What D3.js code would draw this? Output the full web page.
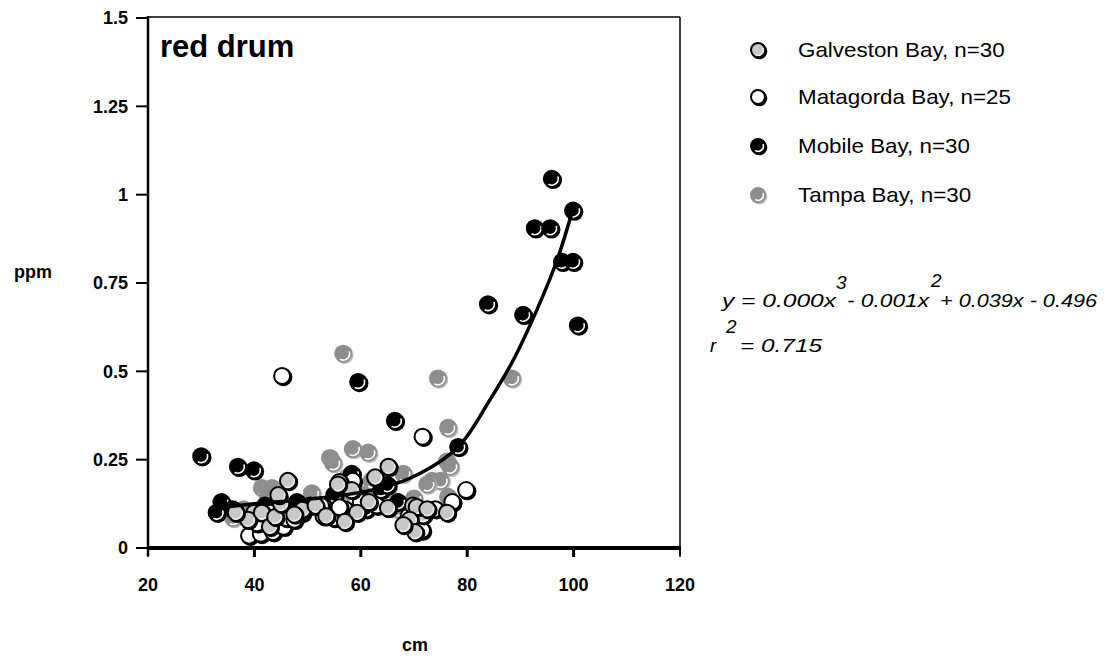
<!DOCTYPE html>
<html>
<head>
<meta charset="utf-8">
<script src="https://cdn.jsdelivr.net/npm/d3@7"></script>
<style>
  body { margin: 0; background: #fff; }
  svg { display: block; font-family: Arial, "Liberation Sans", sans-serif; }
  .tick-label { font-size: 18px; font-weight: bold; }
  .legend-label { font-size: 20px; }
  .eq { font-size: 19px; font-style: italic; }
</style>
</head>
<body>
<script>
// series values: [length cm, mercury ppm]
var galveston = [[46.3,0.19],[49.0,0.108],[40.0,0.10],[38.8,0.08],[41.4,0.10],[42.9,0.06],
  [43.9,0.088],[45.0,0.125],[56.0,0.187],[58.3,0.164],[62.7,0.20],[65.2,0.23],[55.7,0.18],
  [59.3,0.10],[57.0,0.074],[65.1,0.113],[69.8,0.12],[71.7,0.093],[70.5,0.116],[69.2,0.08],
  [70.2,0.045],[68.0,0.065],[76.2,0.10],[72.5,0.11],[51.5,0.12],[53.5,0.09],[47.5,0.095],
  [61.5,0.13],[36.5,0.10],[44.5,0.15]];
var matagorda = [[45.2,0.487],[71.6,0.315],[79.8,0.164],[77.2,0.13],[39.0,0.035],[41.2,0.04],
  [43.5,0.045],[45.5,0.06],[40.5,0.07],[46.0,0.085],[47.5,0.08],[43.0,0.10],[53.0,0.09],
  [55.0,0.085],[57.0,0.11],[52.5,0.12],[56.0,0.115],[60.0,0.13],[63.0,0.12],[70.0,0.07],
  [71.5,0.05],[69.0,0.09],[74.0,0.11],[49.0,0.10],[58.5,0.19]];
var mobile = [[30.0,0.26],[36.9,0.23],[39.9,0.22],[33.8,0.13],[32.9,0.10],[35.9,0.11],
  [59.5,0.47],[66.4,0.36],[78.3,0.286],[95.9,1.045],[99.9,0.955],[92.7,0.905],[95.6,0.905],
  [97.8,0.81],[99.9,0.81],[83.9,0.69],[90.5,0.66],[100.8,0.63],[58.3,0.21],[63.8,0.165],
  [65.0,0.178],[55.0,0.15],[45.0,0.10],[50.5,0.12],[60.0,0.14],[42.0,0.12],[53.0,0.11],
  [67.0,0.13],[48.0,0.13],[61.0,0.11]];
var tampa = [[56.7,0.55],[74.5,0.48],[88.4,0.48],[76.4,0.34],[76.2,0.245],[76.8,0.23],
  [73.4,0.19],[75.0,0.19],[72.5,0.18],[76.4,0.145],[68.0,0.21],[54.2,0.255],[58.5,0.28],
  [61.4,0.27],[54.8,0.24],[50.8,0.155],[41.4,0.17],[43.3,0.17],[36.0,0.085],[42.5,0.15],
  [65.0,0.17],[57.5,0.20],[62.0,0.19],[46.0,0.12],[38.0,0.11],[67.0,0.11],[56.0,0.13],
  [48.0,0.09],[70.0,0.14],[60.5,0.15]];

// trend line
var trend = [[34,0.115],[40,0.125],[48,0.135],[56,0.148],[64,0.17],[71,0.21],[78.3,0.286],
  [84.3,0.42],[88.6,0.53],[93.1,0.674],[96.9,0.815],[99.7,0.95]];

var seriesNames = ["Galveston Bay, n=30", "Matagorda Bay, n=25", "Mobile Bay, n=30", "Tampa Bay, n=30"];
var xTicks = [20, 40, 60, 80, 100, 120];
var yTicks = [0, 0.25, 0.5, 0.75, 1, 1.25, 1.5];
var yTickLabels = ["0", "0.25", "0.5", "0.75", "1", "1.25", "1.5"];

var width = 1112, height = 656;

var styles = [
  {fill: "#c8c8c8", stroke: "#000", shadow: "#000", cres: "#ececec"},
  {fill: "#ffffff", stroke: "#000", shadow: "#000", cres: null},
  {fill: "#000000", stroke: "#000", shadow: "#000", cres: "#ffffff"},
  {fill: "#8e8e8e", stroke: "none", shadow: "#b8b8b8", cres: "#ffffff"}
];
var allData = [galveston, matagorda, mobile, tampa];

var x = d3.scaleLinear().domain([20, 120]).range([148, 680]);
var y = d3.scaleLinear().domain([0, 1.5]).range([548, 18]);

var svg = d3.select("body").append("svg")
    .attr("width", width)
    .attr("height", height);

// frame
svg.append("line").attr("x1", 148).attr("x2", 680).attr("y1", 17).attr("y2", 17)
  .attr("stroke", "#000").attr("stroke-width", 1.5);
svg.append("line").attr("x1", 680).attr("x2", 680).attr("y1", 17).attr("y2", 555)
  .attr("stroke", "#000").attr("stroke-width", 1.5);

// y axis
var yAxis = svg.append("g");
yAxis.append("line").attr("x1", 148).attr("x2", 148).attr("y1", 16).attr("y2", 556)
  .attr("stroke", "#000").attr("stroke-width", 2.5);
yTicks.forEach(function(t, i) {
  yAxis.append("line").attr("x1", 136).attr("x2", 148).attr("y1", y(t)).attr("y2", y(t))
    .attr("stroke", "#000").attr("stroke-width", 2);
  yAxis.append("text").attr("class", "tick-label")
    .attr("x", 128).attr("y", y(t)).attr("dy", "0.35em")
    .attr("text-anchor", "end").text(yTickLabels[i]);
});

// x axis
var xAxis = svg.append("g");
xAxis.append("line").attr("x1", 147).attr("x2", 681).attr("y1", 548).attr("y2", 548)
  .attr("stroke", "#000").attr("stroke-width", 4);
xTicks.forEach(function(t) {
  xAxis.append("line").attr("x1", x(t)).attr("x2", x(t)).attr("y1", 548).attr("y2", 557)
    .attr("stroke", "#000").attr("stroke-width", (t == 20 || t == 120) ? 1.5 : 3);
  xAxis.append("text").attr("class", "tick-label")
    .attr("x", x(t)).attr("y", 585).attr("dy", "0.35em")
    .attr("text-anchor", "middle").text(t);
});

svg.append("text").attr("class", "tick-label").attr("x", 14).attr("y", 272).attr("dy", "0.35em").text("ppm");
svg.append("text").attr("class", "tick-label").attr("x", 415).attr("y", 645).attr("dy", "0.35em")
  .attr("text-anchor", "middle").text("cm");

svg.append("text").attr("x", 160).attr("y", 57)
  .style("font-size", "31px").style("font-weight", "bold").text("red drum");

// marker with shadow and crescent highlight
function crescent(r) {
  var rc = r - 2.6, a0 = -15 * Math.PI / 180, a1 = 115 * Math.PI / 180;
  return "M" + (rc * Math.cos(a0)) + "," + (rc * Math.sin(a0)) +
    "A" + rc + "," + rc + " 0 0 1 " + (rc * Math.cos(a1)) + "," + (rc * Math.sin(a1));
}
function marker(sel, st, r) {
  sel.append("circle").attr("cx", 1.3).attr("cy", 1.3).attr("r", r).attr("fill", st.shadow);
  sel.append("circle").attr("r", st.stroke == "none" ? r : r - 1)
    .attr("fill", st.fill).attr("stroke", st.stroke).attr("stroke-width", 2);
  if (st.cres) {
    sel.append("path").attr("d", crescent(r)).attr("fill", "none")
      .attr("stroke", st.cres).attr("stroke-width", 1.6).attr("stroke-linecap", "round");
  }
}

// draw order: Tampa, Mobile, Matagorda, Galveston
var plot = svg.append("g");
[3, 2, 1, 0].forEach(function(s) {
  plot.selectAll("g.s" + s)
    .data(allData[s])
    .enter().append("g")
    .attr("class", "s" + s)
    .attr("transform", function(d) { return "translate(" + x(d[0]) + "," + y(d[1]) + ")"; })
    .each(function() { marker(d3.select(this), styles[s], 9); });
});

// trend line
var line = d3.line()
    .x(function(d) { return x(d[0]); })
    .y(function(d) { return y(d[1]); })
    .curve(d3.curveCatmullRom);
svg.append("path").datum(trend)
  .attr("d", line).attr("fill", "none").attr("stroke", "#000").attr("stroke-width", 3.5);

// legend
var legendY = [50, 97, 146, 195];
seriesNames.forEach(function(name, i) {
  var g = svg.append("g").attr("transform", "translate(758," + legendY[i] + ")");
  marker(g, styles[i], 8);
  svg.append("text").attr("class", "legend-label")
    .attr("transform", "translate(798," + legendY[i] + ") scale(1.12,1)")
    .attr("dy", "0.35em").text(name);
});

// equation, pieces placed where the reference puts them
function eqText(str, x0, yb, len) {
  var t = svg.append("text").attr("class", "eq").attr("x", x0).attr("y", yb).text(str);
  if (len) t.attr("textLength", len).attr("lengthAdjust", "spacingAndGlyphs");
  return t;
}
eqText("y = 0.000x", 722, 307, 114);
eqText("3", 836, 289);
eqText("- 0.001x", 847, 307, 82);
eqText("2", 931, 287);
eqText("+ 0.039x - 0.496", 940, 307, 157);
eqText("r", 710, 352);
eqText("2", 726, 333);
eqText("= 0.715", 740, 352, 82);
</script>
</body>
</html>
